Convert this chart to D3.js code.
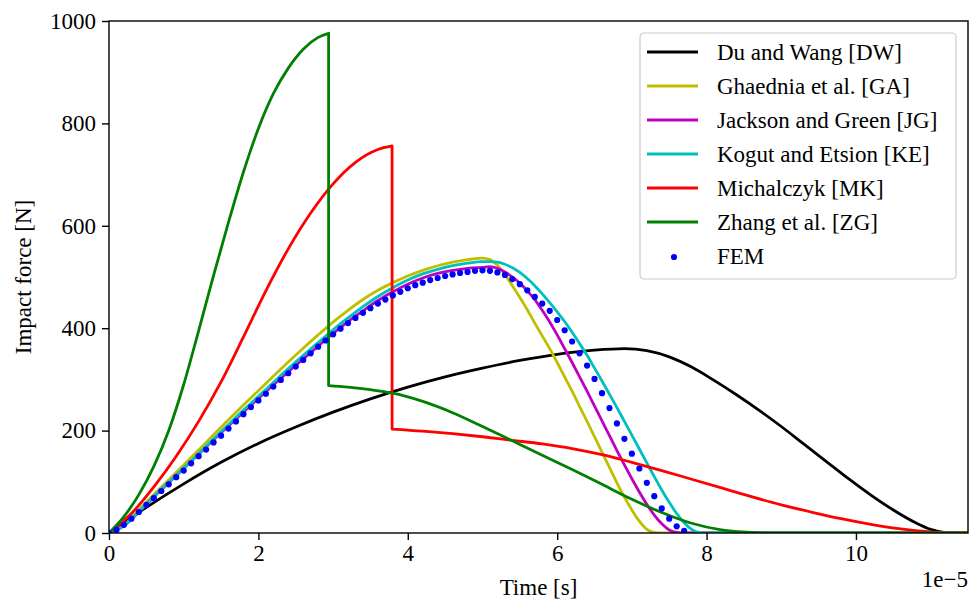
<!DOCTYPE html>
<html>
<head>
<meta charset="utf-8">
<script src="https://cdn.jsdelivr.net/npm/d3@7"></script>
<style>
  body { margin: 0; background: #fff; }
  svg text { font-family: "Liberation Serif", "Times New Roman", serif; fill: #000; }
</style>
</head>
<body>
<div id="chart"></div>
<script>
// time in units of 1e-5 s, force in N

// Du and Wang [DW]
const dwT = [0, 0.5, 1, 1.5, 2, 2.5, 3, 3.5, 4, 4.5, 5, 5.5, 6, 6.5, 6.9, 7.2, 7.5, 7.8, 8.1, 8.4, 8.7, 9.0, 9.3, 9.6, 9.9, 10.2, 10.5, 10.8, 11.0, 11.2, 11.3, 11.5];
const dwF = [0, 50, 96, 138, 175, 207, 236, 262, 285, 305, 322, 337, 349, 357, 360, 356, 344, 324, 298, 270, 240, 208, 174, 140, 106, 74, 45, 20, 7, 0.5, 0, 0];

// Ghaednia et al. [GA]
const gaT = [0, 0.2, 0.4, 0.6, 0.8, 1.0, 1.2, 1.4, 1.6, 1.8, 2.0, 2.2, 2.4, 2.6, 2.8, 3.0, 3.2, 3.4, 3.6, 3.8, 4.0, 4.2, 4.4, 4.6, 4.8, 5.0, 5.1, 5.2, 5.3, 5.4, 5.5, 5.6, 5.7, 5.8, 5.9, 6.0, 6.1, 6.2, 6.3, 6.4, 6.5, 6.6, 6.7, 6.8, 6.9, 7.0, 7.1, 7.2, 7.3, 7.4, 11.5];
const gaF = [0, 15, 45, 75, 104, 133, 162, 192, 221, 250, 278, 306, 334, 361, 387, 412, 435, 456, 474, 489, 502, 513, 522, 529, 534, 537, 534, 523, 505, 483, 460, 436, 410, 385, 360, 333, 305, 277, 247, 218, 188, 158, 128, 98, 70, 45, 23, 7, 1, 0, 0];

// Jackson and Green [JG]
const jgT = [0, 0.2, 0.4, 0.6, 0.8, 1.0, 1.2, 1.4, 1.6, 1.8, 2.0, 2.2, 2.4, 2.6, 2.8, 3.0, 3.2, 3.4, 3.6, 3.8, 4.0, 4.2, 4.4, 4.6, 4.8, 5.0, 5.1, 5.2, 5.3, 5.4, 5.5, 5.6, 5.7, 5.8, 5.9, 6.0, 6.1, 6.2, 6.3, 6.4, 6.5, 6.6, 6.7, 6.8, 6.9, 7.0, 7.1, 7.2, 7.3, 7.4, 7.5, 7.6, 7.7, 11.5];
const jgF = [0, 14, 41, 70, 98, 126, 154, 182, 209, 236, 263, 289, 315, 340, 365, 390, 413, 434, 454, 471, 486, 498, 507, 513, 517, 519, 520, 517, 510, 500, 488, 473, 456, 435, 412, 387, 360, 333, 305, 277, 248, 219, 190, 161, 133, 106, 80, 56, 35, 18, 6, 1, 0, 0];

// Kogut and Etsion [KE]
const keT = [0, 0.2, 0.4, 0.6, 0.8, 1.0, 1.2, 1.4, 1.6, 1.8, 2.0, 2.2, 2.4, 2.6, 2.8, 3.0, 3.2, 3.4, 3.6, 3.8, 4.0, 4.2, 4.4, 4.6, 4.8, 5.0, 5.1, 5.2, 5.3, 5.4, 5.5, 5.6, 5.7, 5.8, 5.9, 6.0, 6.1, 6.2, 6.3, 6.4, 6.5, 6.6, 6.7, 6.8, 6.9, 7.0, 7.1, 7.2, 7.3, 7.4, 7.5, 7.6, 7.7, 7.8, 7.9, 8.0, 11.5];
const keF = [0, 14, 42, 71, 99, 127, 155, 184, 212, 240, 267, 294, 321, 347, 372, 397, 420, 442, 462, 479, 494, 506, 515, 522, 527, 530, 530, 529, 525, 518, 509, 497, 483, 467, 450, 432, 413, 392, 370, 347, 322, 297, 271, 245, 218, 191, 164, 137, 110, 84, 60, 38, 20, 7, 1, 0, 0];

// Michalczyk [MK]: loading branch, then unloading branch after the jump
const mkUpT = [0, 0.3, 0.6, 0.9, 1.2, 1.5, 1.8, 2.1, 2.4, 2.7, 3.0, 3.3, 3.6, 3.79];
const mkUpF = [0, 38, 90, 150, 218, 295, 383, 473, 555, 625, 682, 724, 749, 756];
const mkDownT = [3.79, 4.2, 4.6, 5.0, 5.4, 5.8, 6.2, 6.6, 7.0, 7.4, 7.8, 8.2, 8.6, 9.0, 9.4, 9.8, 10.2, 10.6, 11.0, 11.2, 11.5];
const mkDownF = [203, 199, 194, 188, 181, 174, 165, 153, 138, 122, 105, 88, 71, 55, 41, 28, 17, 8, 2, 0, 0];

// Zhang et al. [ZG]
const zgUpT = [0, 0.2, 0.4, 0.6, 0.8, 1.0, 1.2, 1.4, 1.6, 1.8, 2.0, 2.2, 2.4, 2.6, 2.8, 2.94];
const zgUpF = [0, 32, 75, 130, 200, 290, 395, 503, 607, 705, 790, 858, 908, 945, 968, 976];
const zgDownT = [2.94, 3.2, 3.5, 3.8, 4.2, 4.6, 5.0, 5.4, 5.8, 6.2, 6.6, 7.0, 7.4, 7.8, 8.2, 8.6, 8.9, 11.5];
const zgDownF = [288, 285, 280, 273, 257, 235, 208, 180, 152, 124, 95, 66, 40, 19, 6, 1, 0, 0];

// FEM, sampled every 0.1 (x 1e-5 s)
const femStep = 0.1;
const femF = [0, 6, 16, 28, 41, 55, 68, 82, 95, 109,
  122, 136, 150, 163, 177, 190, 204, 218, 232, 246,
  259, 272, 286, 299, 312, 325, 338, 351, 364, 376,
  388, 399, 410, 420, 430, 439, 448, 456, 464, 471,
  478, 484, 489, 494, 498, 502, 505, 508, 510, 512,
  513, 512, 509, 504, 496, 486, 474, 461, 448, 434,
  416, 396, 374, 351, 327, 301, 273, 244, 214, 184,
  155, 126, 98, 72, 48, 28, 13, 4];

const xTicks = [0, 2, 4, 6, 8, 10];
const yTicks = [0, 200, 400, 600, 800, 1000];

const legendNames = ["Du and Wang [DW]", "Ghaednia et al. [GA]", "Jackson and Green [JG]",
  "Kogut and Etsion [KE]", "Michalczyk [MK]", "Zhang et al. [ZG]", "FEM"];
const colors = ["#000000", "#bfbf00", "#bf00bf", "#00bfbf", "#ff0000", "#008000", "#0000ff"];

const W = 979, H = 600;
const margin = {top: 21, right: 11, bottom: 67, left: 109};
const width = W - margin.left - margin.right,
      height = H - margin.top - margin.bottom;

const svg = d3.select("#chart").append("svg")
    .attr("width", W)
    .attr("height", H);

const g = svg.append("g")
    .attr("transform", "translate(" + margin.left + "," + margin.top + ")");

const x = d3.scaleLinear().domain([0, 11.5]).range([0, width]);
const y = d3.scaleLinear().domain([0, 1000]).range([height, 0]);

svg.append("clipPath").attr("id", "clip")
  .append("rect").attr("width", width).attr("height", height);

const pts = (ts, fs) => ts.map((t, i) => [t, fs[i]]);

const line = d3.line()
    .x(d => x(d[0]))
    .y(d => y(d[1]))
    .curve(d3.curveMonotoneX);

// joins loading and unloading branches with a vertical jump
function jumpPath(up, down) {
  return line(up) + line(down).replace(/^M/, "L");
}

const plot = g.append("g").attr("clip-path", "url(#clip)");

const paths = [
  line(pts(dwT, dwF)),
  line(pts(gaT, gaF)),
  line(pts(jgT, jgF)),
  line(pts(keT, keF)),
  jumpPath(pts(mkUpT, mkUpF), pts(mkDownT, mkDownF)),
  jumpPath(pts(zgUpT, zgUpF), pts(zgDownT, zgDownF))
];

plot.selectAll(".series")
  .data(paths)
  .enter()
  .append("path")
    .attr("class", "series")
    .attr("d", d => d)
    .attr("fill", "none")
    .attr("stroke", (d, i) => colors[i])
    .attr("stroke-width", 2.8)
    .attr("stroke-linejoin", "round");

plot.selectAll(".fem")
  .data(femF)
  .enter()
  .append("circle")
    .attr("class", "fem")
    .attr("cx", (d, i) => x(i * femStep))
    .attr("cy", d => y(d))
    .attr("r", 3.1)
    .attr("fill", colors[6]);

// axes
const xAxis = g.append("g")
    .attr("transform", "translate(0," + height + ")")
    .call(d3.axisBottom(x).tickValues(xTicks).tickSize(7).tickPadding(5).tickFormat(d3.format("d")));

const yAxis = g.append("g")
    .call(d3.axisLeft(y).tickValues(yTicks).tickSize(7).tickPadding(6).tickFormat(d3.format("d")));

[xAxis, yAxis].forEach(a => {
  a.select(".domain").remove();
  a.selectAll(".tick line").attr("stroke", "#000").attr("stroke-width", 1.4);
  a.selectAll(".tick text")
    .style("font-family", "'Liberation Serif', serif")
    .style("font-size", "23px")
    .attr("fill", "#000");
});

g.append("rect")
    .attr("width", width)
    .attr("height", height)
    .attr("fill", "none")
    .attr("stroke", "#000")
    .attr("stroke-width", 1.4);

g.append("text")
    .attr("x", width / 2)
    .attr("y", height + 62)
    .attr("text-anchor", "middle")
    .style("font-size", "23px")
    .text("Time [s]");

g.append("text")
    .attr("x", width)
    .attr("y", height + 54)
    .attr("text-anchor", "end")
    .style("font-size", "23px")
    .text("1e\u22125");

g.append("text")
    .attr("transform", "translate(" + (-78) + "," + (height / 2) + ") rotate(-90)")
    .attr("text-anchor", "middle")
    .style("font-size", "23px")
    .text("Impact force [N]");

// legend
const legend = svg.append("g").attr("transform", "translate(640,33)");

legend.append("rect")
    .attr("width", 316)
    .attr("height", 246)
    .attr("rx", 4)
    .attr("fill", "#fff")
    .attr("fill-opacity", 0.8)
    .attr("stroke", "#cccccc")
    .attr("stroke-width", 1.2);

const items = legend.selectAll(".item")
  .data(legendNames)
  .enter()
  .append("g")
    .attr("class", "item")
    .attr("transform", (d, i) => "translate(0," + (19 + i * 34) + ")");

items.filter((d, i) => i < 6)
  .append("line")
    .attr("x1", 7).attr("x2", 58)
    .attr("stroke", (d, i) => colors[i])
    .attr("stroke-width", 2.8);

items.filter((d, i) => i === 6)
  .append("circle")
    .attr("cx", 34)
    .attr("cy", 1)
    .attr("r", 3.1)
    .attr("fill", colors[6]);

items.append("text")
    .attr("x", 77)
    .attr("dy", "0.35em")
    .style("font-size", "23px")
    .text(d => d);
</script>
</body>
</html>
